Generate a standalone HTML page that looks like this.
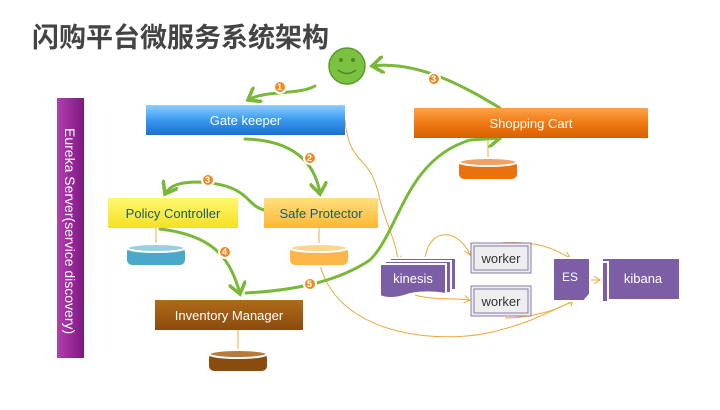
<!DOCTYPE html>
<html><head><meta charset="utf-8"><style>
body{margin:0;width:720px;height:405px;background:#fff;overflow:hidden;font-family:"Liberation Sans","Noto Sans CJK SC",sans-serif}
</style></head><body>
<svg width="720" height="405" viewBox="0 0 720 405" xmlns="http://www.w3.org/2000/svg" font-family="Liberation Sans, Noto Sans CJK SC, sans-serif">
<defs>
<linearGradient id="gb" x1="0" y1="0" x2="0" y2="1"><stop offset="0" stop-color="#8fd0ff"/><stop offset="0.5" stop-color="#3a98ef"/><stop offset="1" stop-color="#1a6fd0"/></linearGradient>
<linearGradient id="go" x1="0" y1="0" x2="0" y2="1"><stop offset="0" stop-color="#ffa24a"/><stop offset="0.5" stop-color="#f07a14"/><stop offset="1" stop-color="#d86000"/></linearGradient>
<linearGradient id="gy" x1="0" y1="0" x2="0" y2="1"><stop offset="0" stop-color="#fff870"/><stop offset="1" stop-color="#f5e020"/></linearGradient>
<linearGradient id="gs" x1="0" y1="0" x2="0" y2="1"><stop offset="0" stop-color="#ffdf80"/><stop offset="1" stop-color="#ffb830"/></linearGradient>
<linearGradient id="gr" x1="0" y1="0" x2="0" y2="1"><stop offset="0" stop-color="#b06a1a"/><stop offset="1" stop-color="#8a4c0c"/></linearGradient>
<linearGradient id="gp" x1="0" y1="0" x2="1" y2="0"><stop offset="0" stop-color="#b040b0"/><stop offset="0.5" stop-color="#9a2a9a"/><stop offset="1" stop-color="#7a1a80"/></linearGradient>
<marker id="ga" markerWidth="6" markerHeight="6" refX="4" refY="3" orient="auto" markerUnits="strokeWidth"><path d="M0,0 L4,3 L0,6" fill="none" stroke="#7ab83a" stroke-width="1.2"/></marker>
<marker id="oa" markerWidth="8" markerHeight="8" refX="6" refY="4" orient="auto" markerUnits="userSpaceOnUse"><path d="M0,0 L6,4 L0,8" fill="none" stroke="#f0a840" stroke-width="1"/></marker>
</defs>
<text x="32" y="47" font-size="27" font-weight="bold" fill="#444">闪购平台微服务系统架构</text>

<!-- Eureka -->
<rect x="57" y="98" width="27" height="260" fill="url(#gp)"/>
<text transform="translate(65,128) rotate(90)" font-size="14" fill="#fff">Eureka Server(service discovery)</text>

<!-- smiley -->
<circle cx="347" cy="66" r="18" fill="#7dc142" stroke="#5a9a2a" stroke-width="1.5"/>
<circle cx="341" cy="60" r="2" fill="#4a8a20"/><circle cx="353" cy="60" r="2" fill="#4a8a20"/>
<path d="M338,70 Q347,77 356,70" fill="none" stroke="#4a8a20" stroke-width="1.5"/>

<!-- orange thin connectors -->
<g fill="none" stroke="#f0a840" stroke-width="1">
<path d="M345,120 C350,170 370,150 380,200 C388,230 396,240 398,262" marker-end="url(#oa)"/>
<path d="M488,138 V158"/><path d="M156,228 V248"/><path d="M319,228 V248"/><path d="M238,330 V352"/>
<path d="M425,258 C430,225 460,230 470,255" marker-end="url(#oa)"/>
<path d="M415,295 C430,300 455,298 470,300" marker-end="url(#oa)"/>
<path d="M500,243 C540,240 555,250 570,258" marker-end="url(#oa)"/>
<path d="M505,318 C530,318 560,310 573,300" marker-end="url(#oa)"/>
<path d="M590,280 L600,280" marker-end="url(#oa)"/>
<path d="M320,265 C340,340 450,345 500,330 C540,320 560,305 573,302"/>
</g>

<!-- green arrows -->
<g fill="none" stroke="#7ab83a" stroke-width="3" stroke-linecap="round">
<path d="M315,86 C300,95 265,90 248,100" marker-end="url(#ga)"/>
<path d="M500,108 C470,90 420,60 372,66" marker-end="url(#ga)"/>
<path d="M245,139 C290,140 315,160 320,194" marker-end="url(#ga)"/>
<path d="M264,210 C245,205 250,185 200,182 C180,182 170,185 165,194" marker-end="url(#ga)"/>
<path d="M160,229 C210,235 230,255 240,294" marker-end="url(#ga)"/>
<path d="M246,293 C300,290 340,280 370,260 C400,230 405,160 470,140 L500,138" marker-end="url(#ga)"/>
</g>
<g font-size="9" font-weight="bold" fill="#fff">
<circle cx="280" cy="87" r="6" fill="#f08a20" stroke="#fff" stroke-width="2"/><text x="277" y="90">1</text>
<circle cx="310" cy="158" r="6" fill="#f08a20" stroke="#fff" stroke-width="2"/><text x="307" y="161">2</text>
<circle cx="208" cy="180" r="6" fill="#f08a20" stroke="#fff" stroke-width="2"/><text x="205" y="183">3</text>
<circle cx="434" cy="79" r="6" fill="#f08a20" stroke="#fff" stroke-width="2"/><text x="431" y="82">3</text>
<circle cx="225" cy="252" r="6" fill="#f08a20" stroke="#fff" stroke-width="2"/><text x="222" y="255">4</text>
<circle cx="310" cy="284" r="6" fill="#f08a20" stroke="#fff" stroke-width="2"/><text x="307" y="287">5</text>
</g>

<!-- boxes -->
<rect x="146" y="105" width="199" height="30" fill="url(#gb)"/>
<text x="245.5" y="125" font-size="13" fill="#fff" text-anchor="middle">Gate keeper</text>
<rect x="414" y="108" width="234" height="30" fill="url(#go)"/>
<text x="531" y="128" font-size="13" fill="#fff" text-anchor="middle">Shopping  Cart</text>
<rect x="108" y="198" width="130" height="30" fill="url(#gy)"/>
<text x="173" y="218" font-size="13" fill="#1c5a6a" text-anchor="middle">Policy Controller</text>
<rect x="264" y="198" width="114" height="30" fill="url(#gs)"/>
<text x="321" y="218" font-size="13" fill="#1c5a6a" text-anchor="middle">Safe Protector</text>
<rect x="155" y="300" width="148" height="30" fill="url(#gr)"/>
<text x="229" y="320" font-size="13" fill="#fff" text-anchor="middle">Inventory Manager</text>

<!-- cylinders -->
<g stroke="#fff" stroke-width="2">
<rect x="458" y="160" width="60" height="20" rx="6" fill="#e8720e"/><ellipse cx="488" cy="162" rx="29" ry="4" fill="#f5a060"/>
<rect x="126" y="246" width="60" height="20" rx="6" fill="#4aa8c8"/><ellipse cx="156" cy="248" rx="29" ry="4" fill="#9ad0e4"/>
<rect x="289" y="246" width="60" height="20" rx="6" fill="#ffb648"/><ellipse cx="319" cy="248" rx="29" ry="4" fill="#ffd590"/>
<rect x="208" y="352" width="60" height="20" rx="6" fill="#8a4c0c"/><ellipse cx="238" cy="354" rx="29" ry="4" fill="#b77a3a"/>
</g>

<!-- kinesis etc -->
<g fill="#7b5ea6" stroke="#fff" stroke-width="2">
<rect x="390" y="258" width="66" height="32"/>
<rect x="385" y="261" width="66" height="32"/>
<path d="M380,264 H446 V294 Q420,290 404,296 Q390,300 380,296 Z"/>
</g>
<text x="413" y="283" font-size="13" fill="#fff" text-anchor="middle">kinesis</text>
<g fill="#eee" stroke="#8a7aa8" stroke-width="1">
<rect x="471" y="243" width="60" height="30"/><rect x="474" y="246" width="54" height="24" fill="none"/>
<rect x="471" y="286" width="60" height="30"/><rect x="474" y="289" width="54" height="24" fill="none"/>
</g>
<text x="501" y="263" font-size="13" fill="#333" text-anchor="middle">worker</text>
<text x="501" y="306" font-size="13" fill="#333" text-anchor="middle">worker</text>
<path d="M553,258 H590 V294 L584,301 H553 Z" fill="#7b5ea6" stroke="#fff" stroke-width="2"/>
<text x="570" y="281" font-size="12" fill="#fff" text-anchor="middle">ES</text>
<rect x="602" y="258" width="78" height="42" fill="#7b5ea6" stroke="#fff" stroke-width="2"/>
<rect x="602" y="262" width="6" height="40" fill="#7b5ea6" stroke="#fff" stroke-width="2"/>
<text x="643" y="283" font-size="13" fill="#fff" text-anchor="middle">kibana</text>
</svg>
</body></html>
